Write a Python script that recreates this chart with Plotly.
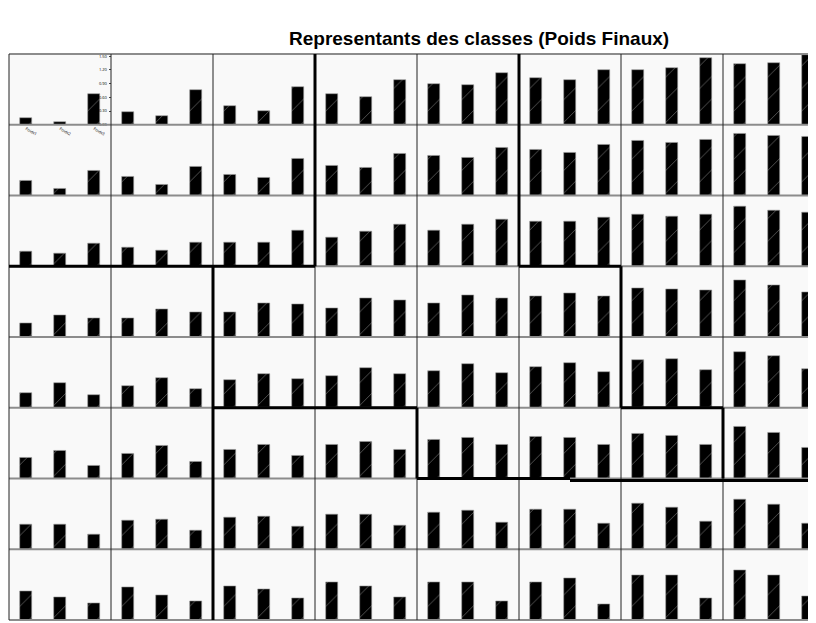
import plotly.graph_objects as go
from plotly.subplots import make_subplots

TITLE = "Representants des classes (Poids Finaux)"
CATEGORIES = ["Poids1", "Poids2", "Poids3"]
TICK_VALUES = [0.0, 0.3, 0.6, 0.9, 1.2, 1.5]
TICK_LABELS = ["0.00", "0.30", "0.60", "0.90", "1.20", "1.50"]

# one list per map row, each entry = the 3 bar heights of one cell (left to right)
ROW_0 = [[0.15, 0.06, 0.68], [0.28, 0.19, 0.76], [0.42, 0.31, 0.83], [0.68, 0.60, 0.97],
         [0.90, 0.87, 1.13], [1.02, 0.99, 1.19], [1.19, 1.24, 1.47], [1.33, 1.35, 1.53]]
ROW_1 = [[0.33, 0.15, 0.55], [0.40, 0.23, 0.64], [0.46, 0.38, 0.80], [0.66, 0.60, 0.91],
         [0.87, 0.82, 1.05], [1.00, 0.93, 1.11], [1.21, 1.16, 1.23], [1.36, 1.32, 1.29]]
ROW_2 = [[0.33, 0.28, 0.49], [0.41, 0.35, 0.53], [0.53, 0.51, 0.78], [0.64, 0.76, 0.92],
         [0.78, 0.92, 1.03], [0.98, 0.98, 1.07], [1.14, 1.10, 1.14], [1.30, 1.23, 1.17]]
ROW_3 = [[0.30, 0.48, 0.41], [0.41, 0.60, 0.55], [0.55, 0.75, 0.72], [0.64, 0.86, 0.80],
         [0.73, 0.91, 0.86], [0.89, 0.95, 0.89], [1.07, 1.05, 1.03], [1.25, 1.14, 0.98]]
ROW_4 = [[0.33, 0.55, 0.29], [0.47, 0.65, 0.40], [0.60, 0.74, 0.63], [0.69, 0.87, 0.74],
         [0.80, 0.95, 0.76], [0.90, 0.97, 0.79], [1.04, 1.06, 0.83], [1.22, 1.13, 0.84]]
ROW_5 = [[0.45, 0.60, 0.27], [0.55, 0.71, 0.36], [0.63, 0.73, 0.50], [0.73, 0.80, 0.62],
         [0.84, 0.89, 0.73], [0.91, 0.89, 0.75], [0.98, 0.93, 0.75], [1.14, 1.00, 0.68]]
ROW_6 = [[0.54, 0.54, 0.33], [0.63, 0.65, 0.40], [0.69, 0.71, 0.49], [0.76, 0.76, 0.52],
         [0.80, 0.84, 0.58], [0.87, 0.87, 0.56], [1.01, 0.92, 0.60], [1.08, 0.97, 0.56]]
ROW_7 = [[0.62, 0.49, 0.37], [0.71, 0.55, 0.40], [0.75, 0.67, 0.47], [0.83, 0.74, 0.49],
         [0.83, 0.83, 0.42], [0.83, 0.92, 0.35], [0.97, 0.97, 0.47], [1.10, 0.99, 0.51]]
ROWS = [ROW_0, ROW_1, ROW_2, ROW_3, ROW_4, ROW_5, ROW_6, ROW_7]

# class boundaries on the map, in (col, row) grid units
THICK_V = [(3, 0, 3), (5, 0, 3), (2, 3, 8), (6, 3, 5), (4, 5, 6), (7, 5, 6)]   # (col, row_from, row_to)
THICK_H = [(3, 0, 3), (3, 5, 6), (5, 2, 4), (5, 6, 7), (6, 4, 5.5), (6.03, 5.5, 8)]  # (row, col_from, col_to)

# the page body adds an 8px offset, so the figure is laid out 8px up/left of the target
W, H = 817, 615
ML, MT, MB = 1, 46, 3
NR, NC = 8, 8
PLOT_W = W - ML
PLOT_H = H - MT - MB
CELL_W = PLOT_W / NC
CELL_H = PLOT_H / NR
YMAX = 1.55

fig = make_subplots(rows=NR, cols=NC, horizontal_spacing=0, vertical_spacing=0)

for r, row in enumerate(ROWS):
    for c, vals in enumerate(row):
        fig.add_trace(go.Bar(
            x=[1, 2, 3], y=vals, width=0.37,
            marker=dict(color="#000000", line=dict(color="#9a9a9a", width=0.6),
                        pattern=dict(shape="/", fgcolor="#c8c8c8", bgcolor="#000000",
                                     size=16, solidity=0.05)),
            showlegend=False, hoverinfo="y"), row=r + 1, col=c + 1)
        first = (r == 0 and c == 0)
        fig.update_xaxes(range=[0.5, 3.5], showgrid=False, zeroline=False, showline=False,
                         showticklabels=first, tickvals=[1, 2, 3], ticktext=CATEGORIES,
                         tickangle=30, tickfont=dict(size=4, color="#000"), ticks="",
                         row=r + 1, col=c + 1)
        fig.update_yaxes(range=[0, YMAX], showgrid=False, zeroline=False, showline=False,
                         showticklabels=first, tickvals=TICK_VALUES, ticktext=TICK_LABELS,
                         side="right", ticklabelposition="inside", ticklabeloverflow="allow",
                         ticks="inside" if first else "",
                         ticklen=2, tickfont=dict(size=4, color="#000"),
                         row=r + 1, col=c + 1)


def px(xp):
    return (xp - ML) / PLOT_W


def py(yp):
    return (MT + PLOT_H - yp) / PLOT_H


def gx(col):
    return ML + col * CELL_W


def gy(row):
    return MT + row * CELL_H


shapes = []
for k in range(NR + 1):
    y = gy(k)
    shapes.append(dict(type="line", xref="paper", yref="paper", x0=0, x1=1, y0=py(y), y1=py(y),
                       line=dict(color="#8c8c8c", width=2)))
for k in range(NC):
    x = gx(k)
    shapes.append(dict(type="line", xref="paper", yref="paper", x0=px(x), x1=px(x), y0=0, y1=1,
                       line=dict(color="#222222", width=1)))
for col, r0, r1 in THICK_V:
    x = gx(col)
    shapes.append(dict(type="line", xref="paper", yref="paper", x0=px(x), x1=px(x),
                       y0=py(gy(r0)), y1=py(gy(r1)), line=dict(color="#000000", width=3)))
for row, c0, c1 in THICK_H:
    y = gy(row)
    shapes.append(dict(type="line", xref="paper", yref="paper", x0=px(gx(c0)), x1=min(1, px(gx(c1))),
                       y0=py(y), y1=py(y), line=dict(color="#000000", width=3)))

fig.update_layout(
    width=W, height=H,
    margin=dict(l=ML, r=0, t=MT, b=MB),
    paper_bgcolor="#ffffff", plot_bgcolor="#f9f9f9",
    bargap=0, shapes=shapes,
    annotations=[dict(text="<b>" + TITLE + "</b>", xref="paper", yref="paper",
                      x=px(471), y=py(30), xanchor="center", yanchor="middle", showarrow=False,
                      font=dict(family="Liberation Sans, Arial, sans-serif", size=19, color="#000"))],
)

fig.write_html("out.html")
